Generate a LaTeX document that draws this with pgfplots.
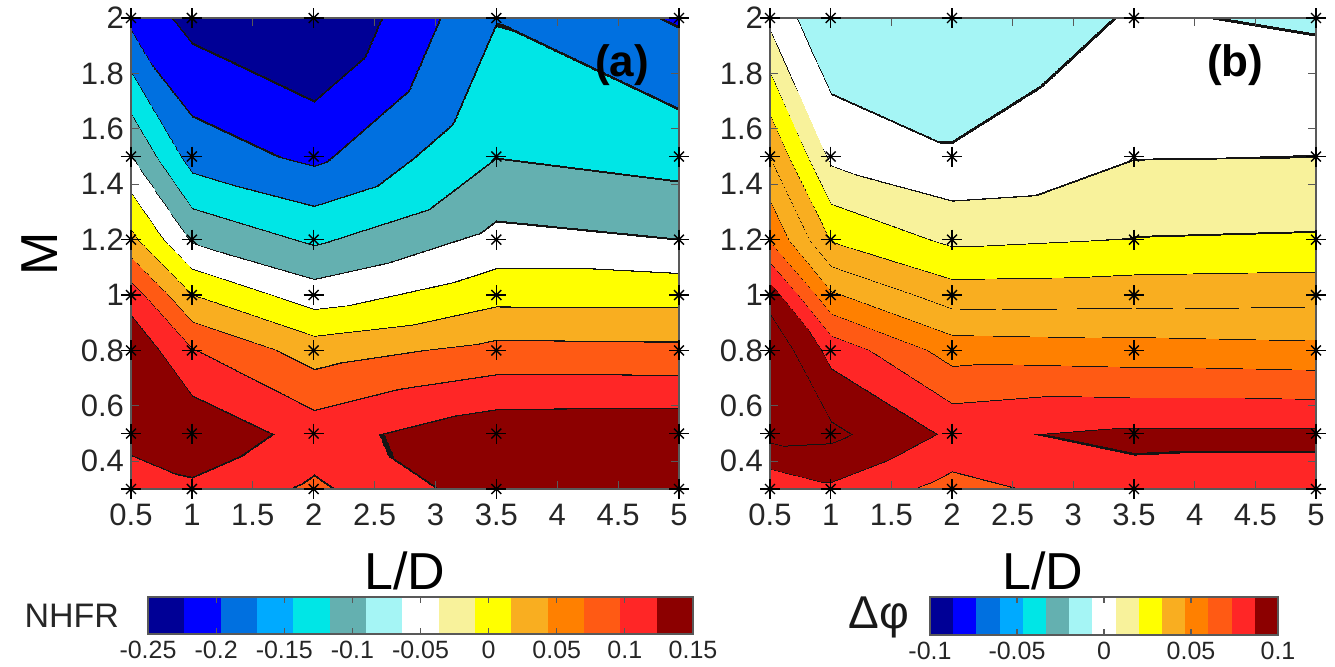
\documentclass[border=0pt]{standalone}
\usepackage{fontspec}
\setmainfont{Liberation Sans}
\usepackage{pgfplots}
\usepackage{pgfplotstable}
\pgfplotsset{compat=1.18}
\definecolor{k1}{RGB}{0,0,150}
\definecolor{k2}{RGB}{0,0,255}
\definecolor{k3}{RGB}{0,112,224}
\definecolor{k4}{RGB}{0,170,255}
\definecolor{k5}{RGB}{0,230,230}
\definecolor{k6}{RGB}{100,176,176}
\definecolor{k7}{RGB}{165,245,245}
\definecolor{k8}{RGB}{255,255,255}
\definecolor{k9}{RGB}{248,242,155}
\definecolor{k10}{RGB}{255,255,0}
\definecolor{k11}{RGB}{249,174,32}
\definecolor{k12}{RGB}{255,128,0}
\definecolor{k13}{RGB}{255,90,20}
\definecolor{k14}{RGB}{255,38,38}
\definecolor{k15}{RGB}{140,0,0}
\definecolor{cline}{RGB}{20,20,20}
% build a piecewise-constant colormap: each band is split into #2 slots,
% the first slot of a flagged band is the contour line colour
\newcommand\buildcm[3]{%
 \gdef\tmpspec{}%
 \foreach \col/\ln in {#3}{%
   \foreach \j in {1,...,#2}{%
     \ifnum\j=1 \ifnum\ln=1 \xdef\tmpspec{\tmpspec color=(cline)}\else \xdef\tmpspec{\tmpspec color=(\col)}\fi
     \else \xdef\tmpspec{\tmpspec color=(\col)}\fi
   }%
 }%
 \edef\tmp{\noexpand\pgfplotsset{colormap={#1}{\tmpspec}}}\tmp
}
\buildcm{cmA}{30}{k1/0,k1/0,k2/1,k3/1,k5/1,k6/1,k8/1,k10/1,k11/1,k13/1,k14/1,k15/1}
\buildcm{cmB}{40}{k7/0,k8/1,k9/1,k10/1,k11/1,k11/1,k12/1,k13/1,k14/1,k15/1,k15/1}
\pgfplotsset{
 mainax/.style={
  scale only axis, width=274pt, height=235.5pt,
  xmin=0.5,xmax=5,ymin=0.3,ymax=2,
  xtick={0.5,1,1.5,2,2.5,3,3.5,4,4.5,5}, xticklabels={0.5,1,1.5,2,2.5,3,3.5,4,4.5,5},
  ytick={0.4,0.6,0.8,1,1.2,1.4,1.6,1.8,2}, yticklabels={0.4,0.6,0.8,1,1.2,1.4,1.6,1.8,2},
  tick align=inside, major tick length=4pt,
  tick label style={font=\fontsize{15.5}{18}\selectfont, text=black!85},
  xticklabel style={yshift=-4pt},
  axis line style={draw=black!65, line width=0.6pt}, tick style={black!65, line width=0.6pt},
  axis on top, clip=false,
  label style={font=\fontsize{26}{30}\selectfont},
  xlabel={L/D}, xlabel style={at={(axis description cs:0.5,0)}, anchor=center, yshift=-41pt},
  colormap access=piecewise constant,
 },
 cbax/.style={
  scale only axis, ymin=0, ymax=1, ytick=\empty, clip=false,
  tick align=inside, major tick length=3pt, xtick pos=both,
  tick label style={font=\fontsize{12.5}{15}\selectfont, text=black!85},
  axis line style={draw=black!65, line width=0.6pt}, tick style={black!65, line width=0.6pt},
  axis on top,
 },
 star/.style={only marks, mark=+, mark size=5pt, black, mark options={line width=0.7pt}},
 starx/.style={only marks, mark=x, mark size=3.5pt, black, mark options={line width=0.7pt}},
}
\newcommand{\cb}[3]{\addplot[draw=none,fill=#3] coordinates {(#1,1) (#2,1)} \closedcycle;}

% NHFR (a): x = L/D, y = M, v = value
\pgfplotstableread{
x y v
0.5 0.3 0.120
1 0.3 0.148
2 0.3 0.1075
3.5 0.3 0.180
5 0.3 0.185
0.5 0.5 0.180
1 0.5 0.190
2 0.5 0.140
3.5 0.5 0.186
5 0.5 0.189
0.5 0.8 0.190
1 0.8 0.118
2 0.8 0.055
3.5 0.8 0.087
5 0.8 0.0845
0.5 1.0 0.138
1 1.0 0.034
2 1.0 -0.030
3.5 1.0 0.019
5 1.0 0.019
0.5 1.2 0.045
1 1.2 -0.054
2 1.2 -0.097
3.5 1.2 -0.037
5 1.2 -0.049
0.5 1.5 -0.048
1 1.5 -0.150
2 1.5 -0.1825
3.5 1.5 -0.0915
5 1.5 -0.108
0.5 2.0 -0.185
1 2.0 -0.229
2 2.0 -0.2625
3.5 2.0 -0.134
5 2.0 -0.178
}\dataA

% Delta phi (b)
\pgfplotstableread{
x y v
0.5 0.3 0.085
1 0.3 0.092
2 0.3 0.0775
3.5 0.3 0.090
5 0.3 0.089
0.5 0.5 0.110
1 0.5 0.109
2 0.5 0.092
3.5 0.5 0.0965
5 0.5 0.0965
0.5 0.8 0.116
1 0.8 0.090
2 0.8 0.065
3.5 0.8 0.0635
5 0.8 0.062
0.5 1.0 0.101
1 1.0 0.060
2 1.0 0.040
3.5 1.0 0.041
5 1.0 0.042
0.5 1.2 0.069
1 1.2 0.0335
2 1.2 0.0198
3.5 1.2 0.0227
5 1.2 0.0235
0.5 1.5 0.046
1 1.5 0.0075
2 1.5 -0.0005
3.5 1.5 0.0098
5 1.5 0.0102
0.5 2.0 0.0068
1 2.0 -0.013
2 2.0 -0.013
3.5 2.0 -0.0005
5 2.0 -0.0035
}\dataB

\begin{document}
\begin{tikzpicture}
\useasboundingbox (0,0) rectangle (667.5pt,333pt);

% ---------- (a)
\begin{axis}[mainax, at={(65.5pt,88.5pt)}, anchor=south west,
  colormap name=cmA, point meta min=-0.298, point meta max=0.1976,
  ylabel={M}, ylabel style={at={(axis description cs:0,0.5)}, anchor=center, yshift=45.5pt}]
\addplot[surf, shader=interp, mesh/rows=7, mesh/cols=5, point meta=explicit] table[x=x,y=y,meta=v] {\dataA};
\addplot[star] table[x=x,y=y] {\dataA};
\addplot[starx] table[x=x,y=y] {\dataA};
\node[font=\bfseries\fontsize{22}{26}\selectfont] at (axis description cs:0.896,0.9) {(a)};
\end{axis}

% ---------- (b)
\begin{axis}[mainax, at={(385pt,88.5pt)}, anchor=south west, width=273pt,
  colormap name=cmB, point meta min=-0.014, point meta max=0.118]
\addplot[surf, shader=interp, mesh/rows=7, mesh/cols=5, point meta=explicit] table[x=x,y=y,meta=v] {\dataB};
\addplot[star] table[x=x,y=y] {\dataB};
\addplot[starx] table[x=x,y=y] {\dataB};
\node[font=\bfseries\fontsize{22}{26}\selectfont] at (axis description cs:0.852,0.9) {(b)};
\end{axis}

% ---------- colorbar (a)
\begin{axis}[cbax, at={(74pt,16pt)}, anchor=south west, width=272.5pt, height=18.5pt,
  xmin=-0.25, xmax=0.15,
  xtick={-0.25,-0.2,-0.15,-0.1,-0.05,0,0.05,0.1,0.15},
  xticklabels={-0.25,-0.2,-0.15,-0.1,-0.05,0,0.05,0.1,0.15}]
\cb{-0.25}{-0.22333}{k1}
\cb{-0.22333}{-0.19667}{k2}
\cb{-0.19667}{-0.17}{k3}
\cb{-0.17}{-0.14333}{k4}
\cb{-0.14333}{-0.11667}{k5}
\cb{-0.11667}{-0.09}{k6}
\cb{-0.09}{-0.06333}{k7}
\cb{-0.06333}{-0.03667}{k8}
\cb{-0.03667}{-0.01}{k9}
\cb{-0.01}{0.01667}{k10}
\cb{0.01667}{0.04333}{k11}
\cb{0.04333}{0.07}{k12}
\cb{0.07}{0.09667}{k13}
\cb{0.09667}{0.12333}{k14}
\cb{0.12333}{0.15}{k15}
\node[font=\fontsize{17}{20}\selectfont, anchor=east, text=black!85] at (axis description cs:0,0.5) [xshift=-11pt] {NHFR};
\end{axis}

% ---------- colorbar (b)
\begin{axis}[cbax, at={(465pt,15.5pt)}, anchor=south west, width=174pt, height=19pt,
  xmin=-0.1, xmax=0.1,
  xtick={-0.1,-0.05,0,0.05,0.1},
  xticklabels={-0.1,-0.05,0,0.05,0.1}]
\cb{-0.1}{-0.08667}{k1}
\cb{-0.08667}{-0.07333}{k2}
\cb{-0.07333}{-0.06}{k3}
\cb{-0.06}{-0.04667}{k4}
\cb{-0.04667}{-0.03333}{k5}
\cb{-0.03333}{-0.02}{k6}
\cb{-0.02}{-0.00667}{k7}
\cb{-0.00667}{0.00667}{k8}
\cb{0.00667}{0.02}{k9}
\cb{0.02}{0.03333}{k10}
\cb{0.03333}{0.04667}{k11}
\cb{0.04667}{0.06}{k12}
\cb{0.06}{0.07333}{k13}
\cb{0.07333}{0.08667}{k14}
\cb{0.08667}{0.1}{k15}
\node[font=\fontsize{23}{27}\selectfont, anchor=east, text=black!90] at (axis description cs:0,0.45) [xshift=-7pt] {Δφ};
\end{axis}
\end{tikzpicture}
\end{document}
